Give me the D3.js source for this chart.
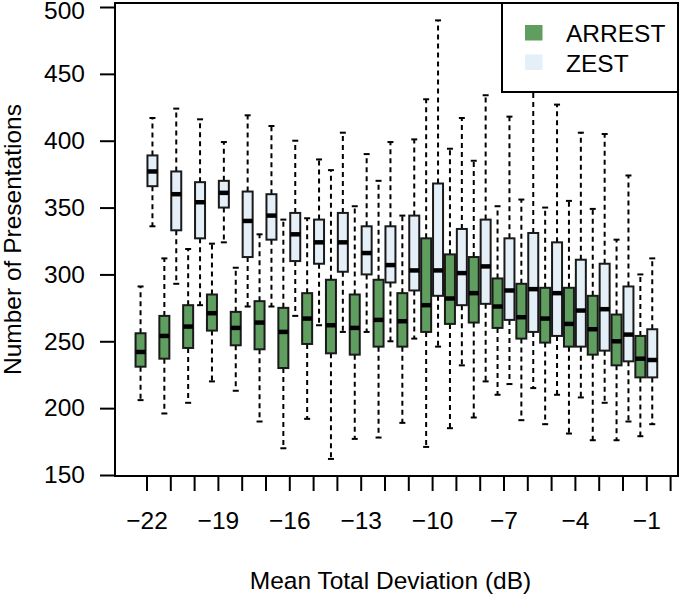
<!DOCTYPE html>
<html><head><meta charset="utf-8">
<script src="https://cdn.jsdelivr.net/npm/d3@7"></script>
<style>body{margin:0;background:#fff}svg{display:block}text{font-family:"Liberation Sans",Arial,Helvetica,sans-serif;fill:#000}</style>
</head><body>
<script>
const categories = [-22,-21,-20,-19,-18,-17,-16,-15,-14,-13,-12,-11,-10,-9,-8,-7,-6,-5,-4,-3,-2,-1];
const xTicks = [-22,-21,-20,-19,-18,-17,-16,-15,-14,-13,-12,-11,-10,-9,-8,-7,-6,-5,-4,-3,-2,-1,0];
const xTickLabels = [-22,-19,-16,-13,-10,-7,-4,-1];
const yTicks = [150,200,250,300,350,400,450,500];
const seriesNames = ["ARREST","ZEST"];

const arrestLow  = [206,196,204,220,213,190,170,192,162,177,178,189,171,185,193,210,191,188,181,176,176,179];
const arrestQ1   = [231,237,245,258,247,244,230,248,241,240,246,246,257,263,264,260,252,249,246,240,232,223];
const arrestMed  = [242,254,261,271,260,264,257,267,262,260,266,265,277,282,286,276,268,267,263,259,250,237];
const arrestQ3   = [256,269,277,285,272,280,275,286,296,285,296,286,327,315,313,297,293,290,290,284,270,254];
const arrestHigh = [291,312,319,323,305,330,341,342,378,351,370,344,431,394,385,351,356,350,355,349,326,300];

const zestLow  = [336,293,277,324,276,276,269,262,257,257,250,252,246,232,220,218,215,210,208,204,190,188];
const zestQ1   = [366,333,327,350,313,326,310,308,302,300,294,288,284,277,278,266,257,254,246,243,235,223];
const zestMed  = [377,360,354,361,340,344,330,324,324,316,307,303,303,301,306,288,289,286,273,274,255,236];
const zestQ3   = [389,377,369,370,362,360,346,341,346,336,336,344,368,334,341,327,331,324,311,308,291,259];
const zestHigh = [417,424,416,399,419,411,400,386,406,390,399,401,490,417,434,418,441,427,406,405,374,312];

const W = 679, H = 596;
const frame = {left:115, right:678, top:3, bottom:476};
const x = d3.scaleLinear().domain([-22,0]).range([146.5,670.1]);
const y = d3.scaleLinear().domain([150,500]).range([475,7]);
const colors = {ARREST:"#5f9e5f", ZEST:"#e4eff8"};
const unit = x(1)-x(0);
const boxW = unit*0.42, offset = unit*0.25, capW = boxW*0.5;
const LW = 2;
const FS = 24.5;

const svg = d3.select("body").append("svg").attr("width",W).attr("height",H);

const series = [
  {name:"ARREST", dx:-offset, low:arrestLow, q1:arrestQ1, med:arrestMed, q3:arrestQ3, high:arrestHigh},
  {name:"ZEST", dx:offset, low:zestLow, q1:zestQ1, med:zestMed, q3:zestQ3, high:zestHigh}
];

const g = svg.append("g");
categories.forEach((c,i)=>{
  series.forEach(s=>{
    const cx = x(c)+s.dx;
    const bg = g.append("g");
    bg.append("line").attr("x1",cx).attr("x2",cx).attr("y1",y(s.q3[i])).attr("y2",y(s.high[i]))
      .attr("stroke","#000").attr("stroke-width",LW).attr("stroke-dasharray","5,4");
    bg.append("line").attr("x1",cx).attr("x2",cx).attr("y1",y(s.q1[i])).attr("y2",y(s.low[i]))
      .attr("stroke","#000").attr("stroke-width",LW).attr("stroke-dasharray","5,4");
    [s.high[i], s.low[i]].forEach(v=>{
      bg.append("line").attr("x1",cx-capW/2-0.5).attr("x2",cx+capW/2+0.5).attr("y1",y(v)).attr("y2",y(v))
        .attr("stroke","#000").attr("stroke-width",LW);
    });
    bg.append("rect").attr("x",cx-boxW/2).attr("width",boxW)
      .attr("y",y(s.q3[i])).attr("height",y(s.q1[i])-y(s.q3[i]))
      .attr("fill",colors[s.name]).attr("stroke","#1a1a1a").attr("stroke-width",LW);
    bg.append("line").attr("x1",cx-boxW/2).attr("x2",cx+boxW/2).attr("y1",y(s.med[i])).attr("y2",y(s.med[i]))
      .attr("stroke","#000").attr("stroke-width",4.5);
  });
});

// frame
svg.append("rect").attr("x",frame.left).attr("y",frame.top)
  .attr("width",frame.right-frame.left).attr("height",frame.bottom-frame.top)
  .attr("fill","none").attr("stroke","#000").attr("stroke-width",LW);

// y axis
const yAxis = d3.axisLeft(y).tickValues(yTicks).tickSize(15).tickPadding(15).tickFormat(d3.format("d"));
const ya = svg.append("g").attr("transform",`translate(${frame.left},0)`).call(yAxis);
ya.select(".domain").remove();
ya.selectAll("line").attr("stroke","#000").attr("stroke-width",LW);
ya.selectAll("text").attr("font-size",FS).attr("font-family","Liberation Sans, Arial, sans-serif");
ya.selectAll(".tick").filter(d=>d===500).select("text").attr("y",3.5);

// x axis
const fmt = d => xTickLabels.includes(d) ? ("\u2212"+Math.abs(d)) : "";
const xAxis = d3.axisBottom(x).tickValues(xTicks).tickSize(15).tickPadding(21).tickFormat(fmt);
const xa = svg.append("g").attr("transform",`translate(0,${frame.bottom})`).call(xAxis);
xa.select(".domain").remove();
xa.selectAll("line").attr("stroke","#000").attr("stroke-width",LW);
xa.selectAll("text").attr("font-size",FS).attr("font-family","Liberation Sans, Arial, sans-serif");

// axis titles
svg.append("text").attr("x",(frame.left+frame.right)/2 - 6).attr("y",589)
  .attr("text-anchor","middle").attr("font-size",FS).text("Mean Total Deviation (dB)");
svg.append("text").attr("transform",`translate(21,${(frame.top+frame.bottom)/2}) rotate(-90)`)
  .attr("text-anchor","middle").attr("font-size",FS).text("Number of Presentations");

// legend
const lg = svg.append("g");
lg.append("rect").attr("x",502).attr("y",frame.top).attr("width",frame.right-502).attr("height",92-frame.top)
  .attr("fill","#fff").attr("stroke","#000").attr("stroke-width",LW);
seriesNames.forEach((n,k)=>{
  lg.append("rect").attr("x",525).attr("y",25+k*29.5).attr("width",17.5).attr("height",15.5).attr("fill",colors[n]);
  lg.append("text").attr("x",566).attr("y",42+k*29.5).attr("font-size",FS).text(n);
});
</script>
</body></html>
